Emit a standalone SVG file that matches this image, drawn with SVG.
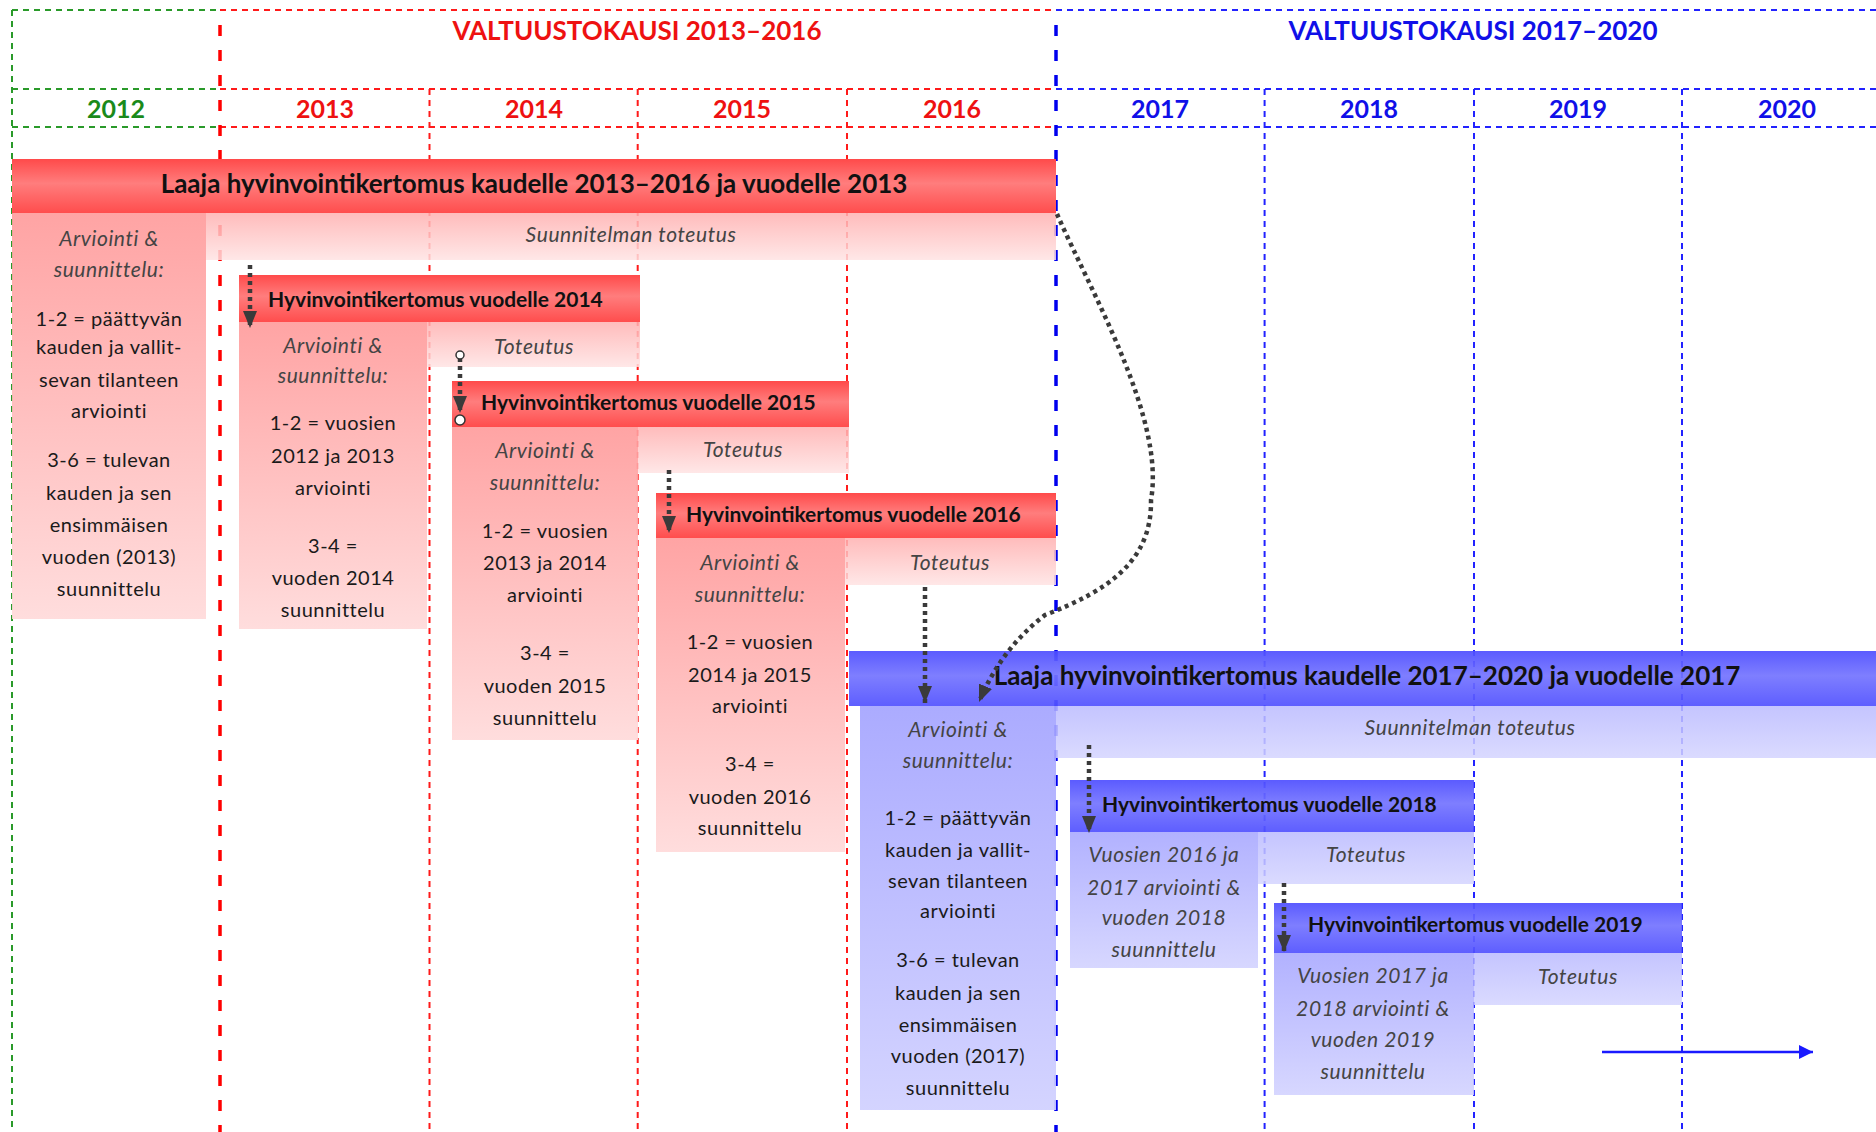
<svg xmlns="http://www.w3.org/2000/svg" width="1876" height="1132" viewBox="0 0 1876 1132">
<style>
text{font-family:Lato,"Liberation Sans",sans-serif}
.per{font-size:26px;font-weight:bold;text-anchor:middle}
.yr{font-size:25px;font-weight:bold;text-anchor:middle}
.big{font-size:26px;font-weight:bold;text-anchor:middle;fill:#111}
.hdr{font-size:21px;font-weight:bold;fill:#111}
.it{font-size:21px;font-style:italic;fill:#444;text-anchor:middle;letter-spacing:0.6px}
.bd{font-size:20px;fill:#1a1a1a;text-anchor:middle;letter-spacing:0.5px}
.r{fill:#ee1111}.g{fill:#1a8a1a}.b{fill:#1010e8}
.lg{stroke:#2a9a2a;stroke-width:2;stroke-dasharray:6 5;fill:none}
.lr{stroke:#ff1a1a;stroke-width:2;stroke-dasharray:6 5;fill:none}
.lb{stroke:#2222ff;stroke-width:2;stroke-dasharray:6 5;fill:none}
.lrt{stroke:#ff0000;stroke-width:3.5;stroke-dasharray:11 14;fill:none}
.lbt{stroke:#0000ee;stroke-width:3.5;stroke-dasharray:11 14;fill:none}
.dot{stroke:#3a3a3a;stroke-width:4.5;stroke-dasharray:4 4;fill:none}
</style>
<defs>
<linearGradient id="rh" x1="0" y1="0" x2="0" y2="1">
<stop offset="0" stop-color="#ff4a4a"/><stop offset="0.45" stop-color="#ff7d7d"/><stop offset="1" stop-color="#ff4d4d"/>
</linearGradient>
<linearGradient id="rb" x1="0" y1="0" x2="0" y2="1">
<stop offset="0" stop-color="#ff9c9c"/><stop offset="1" stop-color="#ffdada"/>
</linearGradient>
<linearGradient id="rt" x1="0" y1="0" x2="0" y2="1">
<stop offset="0" stop-color="#ffb0b0"/><stop offset="1" stop-color="#ffe3e3"/>
</linearGradient>
<linearGradient id="bh" x1="0" y1="0" x2="0" y2="1">
<stop offset="0" stop-color="#4d4dff"/><stop offset="0.45" stop-color="#7373ff"/><stop offset="1" stop-color="#5050ff"/>
</linearGradient>
<linearGradient id="bb" x1="0" y1="0" x2="0" y2="1">
<stop offset="0" stop-color="#a4a4ff"/><stop offset="1" stop-color="#d0d0ff"/>
</linearGradient>
<linearGradient id="bt" x1="0" y1="0" x2="0" y2="1">
<stop offset="0" stop-color="#babaff"/><stop offset="1" stop-color="#d4d4ff"/>
</linearGradient>
<marker id="ac" viewBox="0 0 17 14" refX="17" refY="7" markerWidth="17" markerHeight="14" markerUnits="userSpaceOnUse" orient="auto">
<path d="M0,0 L17,7 L0,14 Z" fill="#3a3a3a"/>
</marker>
<marker id="ab" viewBox="0 0 14 14" refX="14" refY="7" markerWidth="14" markerHeight="14" markerUnits="userSpaceOnUse" orient="auto">
<path d="M0,0 L14,7 L0,14 Z" fill="#1a1aff"/>
</marker>
</defs>
<rect width="1876" height="1132" fill="#ffffff"/>

<g id="grid">
<path class="lg" d="M12,10H220M12,89H220M12,127H220M12,10V1132"/>
<path class="lr" d="M220,10H1056M220,89H1056M220,127H1056M429.5,89V1132M637.7,89V1132M847,89V1132"/>
<path class="lb" d="M1056,10H1876M1056,89H1876M1056,127H1876M1264.6,89V1132M1474,89V1132M1682,89V1132"/>
<path class="lrt" d="M220,25V1132"/>
<path class="lbt" d="M1056,25V1132"/>
</g>

<g id="header">
<text class="per r" x="637" y="40">VALTUUSTOKAUSI 2013–2016</text>
<text class="per b" x="1473" y="40">VALTUUSTOKAUSI 2017–2020</text>
<text class="yr g" x="116" y="118">2012</text>
<text class="yr r" x="325" y="118">2013</text>
<text class="yr r" x="534" y="118">2014</text>
<text class="yr r" x="742" y="118">2015</text>
<text class="yr r" x="952" y="118">2016</text>
<text class="yr b" x="1160" y="118">2017</text>
<text class="yr b" x="1369" y="118">2018</text>
<text class="yr b" x="1578" y="118">2019</text>
<text class="yr b" x="1787" y="118">2020</text>
</g>

<g id="kertomus-2013-2016">
<rect x="12" y="159" width="1044" height="54" fill="url(#rh)"/>
<rect x="12" y="213" width="194" height="406" fill="url(#rb)" opacity="0.92"/>
<rect x="206" y="213" width="850" height="47" fill="url(#rt)" opacity="0.85"/>
<text class="big" x="534" y="193">Laaja hyvinvointikertomus kaudelle 2013–2016 ja vuodelle 2013</text>
<text class="it" x="631" y="242">Suunnitelman toteutus</text>
<text class="it" x="109" y="246">Arviointi &amp;</text>
<text class="it" x="109" y="277">suunnittelu:</text>
<text class="bd" x="109" y="326">1-2 = päättyvän</text>
<text class="bd" x="109" y="354">kauden ja vallit-</text>
<text class="bd" x="109" y="387">sevan tilanteen</text>
<text class="bd" x="109" y="418">arviointi</text>
<text class="bd" x="109" y="467">3-6 = tulevan</text>
<text class="bd" x="109" y="500">kauden ja sen</text>
<text class="bd" x="109" y="532">ensimmäisen</text>
<text class="bd" x="109" y="564">vuoden (2013)</text>
<text class="bd" x="109" y="596">suunnittelu</text>
</g>

<g id="kertomus-2014">
<rect x="239" y="275" width="401" height="47" fill="url(#rh)"/>
<rect x="239" y="322" width="188" height="307" fill="url(#rb)" opacity="0.92"/>
<rect x="427" y="322" width="213" height="45" fill="url(#rt)" opacity="0.85"/>
<text class="hdr" x="268" y="307">Hyvinvointikertomus vuodelle 2014</text>
<text class="it" x="534" y="354">Toteutus</text>
<text class="it" x="333" y="353">Arviointi &amp;</text>
<text class="it" x="333" y="383">suunnittelu:</text>
<text class="bd" x="333" y="430">1-2 = vuosien</text>
<text class="bd" x="333" y="463">2012 ja 2013</text>
<text class="bd" x="333" y="495">arviointi</text>
<text class="bd" x="333" y="553">3-4 =</text>
<text class="bd" x="333" y="585">vuoden 2014</text>
<text class="bd" x="333" y="617">suunnittelu</text>
</g>

<g id="kertomus-2015">
<rect x="452" y="381" width="397" height="46" fill="url(#rh)"/>
<rect x="452" y="427" width="186" height="313" fill="url(#rb)" opacity="0.92"/>
<rect x="638" y="427" width="211" height="46" fill="url(#rt)" opacity="0.85"/>
<text class="hdr" x="481" y="410">Hyvinvointikertomus vuodelle 2015</text>
<text class="it" x="743" y="457">Toteutus</text>
<text class="it" x="545" y="458">Arviointi &amp;</text>
<text class="it" x="545" y="490">suunnittelu:</text>
<text class="bd" x="545" y="538">1-2 = vuosien</text>
<text class="bd" x="545" y="570">2013 ja 2014</text>
<text class="bd" x="545" y="602">arviointi</text>
<text class="bd" x="545" y="660">3-4 =</text>
<text class="bd" x="545" y="693">vuoden 2015</text>
<text class="bd" x="545" y="725">suunnittelu</text>
</g>

<g id="kertomus-2016">
<rect x="656" y="493" width="400" height="45" fill="url(#rh)"/>
<rect x="656" y="538" width="189" height="314" fill="url(#rb)" opacity="0.92"/>
<rect x="845" y="538" width="211" height="47" fill="url(#rt)" opacity="0.85"/>
<text class="hdr" x="686" y="522">Hyvinvointikertomus vuodelle 2016</text>
<text class="it" x="950" y="570">Toteutus</text>
<text class="it" x="750" y="570">Arviointi &amp;</text>
<text class="it" x="750" y="602">suunnittelu:</text>
<text class="bd" x="750" y="649">1-2 = vuosien</text>
<text class="bd" x="750" y="682">2014 ja 2015</text>
<text class="bd" x="750" y="713">arviointi</text>
<text class="bd" x="750" y="771">3-4 =</text>
<text class="bd" x="750" y="804">vuoden 2016</text>
<text class="bd" x="750" y="835">suunnittelu</text>
</g>

<g id="kertomus-2017-2020">
<rect x="849" y="651" width="1027" height="55" fill="url(#bh)" opacity="0.92"/>
<rect x="860" y="706" width="196" height="404" fill="url(#bb)" opacity="0.92"/>
<rect x="1056" y="706" width="820" height="52" fill="url(#bt)" opacity="0.85"/>
<text class="big" x="1367" y="685">Laaja hyvinvointikertomus kaudelle 2017–2020 ja vuodelle 2017</text>
<text class="it" x="1470" y="735">Suunnitelman toteutus</text>
<text class="it" x="958" y="737">Arviointi &amp;</text>
<text class="it" x="958" y="768">suunnittelu:</text>
<text class="bd" x="958" y="825">1-2 = päättyvän</text>
<text class="bd" x="958" y="857">kauden ja vallit-</text>
<text class="bd" x="958" y="888">sevan tilanteen</text>
<text class="bd" x="958" y="918">arviointi</text>
<text class="bd" x="958" y="967">3-6 = tulevan</text>
<text class="bd" x="958" y="1000">kauden ja sen</text>
<text class="bd" x="958" y="1032">ensimmäisen</text>
<text class="bd" x="958" y="1063">vuoden (2017)</text>
<text class="bd" x="958" y="1095">suunnittelu</text>
</g>

<g id="kertomus-2018">
<rect x="1070" y="780" width="404" height="52" fill="url(#bh)" opacity="0.92"/>
<rect x="1070" y="832" width="188" height="136" fill="url(#bb)" opacity="0.85"/>
<rect x="1258" y="832" width="216" height="52" fill="url(#bt)" opacity="0.85"/>
<text class="hdr" x="1102" y="812">Hyvinvointikertomus vuodelle 2018</text>
<text class="it" x="1366" y="862">Toteutus</text>
<text class="it" x="1164" y="862">Vuosien 2016 ja</text>
<text class="it" x="1164" y="895">2017 arviointi &amp;</text>
<text class="it" x="1164" y="925">vuoden 2018</text>
<text class="it" x="1164" y="957">suunnittelu</text>
</g>

<g id="kertomus-2019">
<rect x="1274" y="903" width="408" height="50" fill="url(#bh)" opacity="0.92"/>
<rect x="1274" y="953" width="200" height="142" fill="url(#bb)" opacity="0.85"/>
<rect x="1474" y="953" width="208" height="52" fill="url(#bt)" opacity="0.85"/>
<text class="hdr" x="1308" y="932">Hyvinvointikertomus vuodelle 2019</text>
<text class="it" x="1578" y="984">Toteutus</text>
<text class="it" x="1373" y="983">Vuosien 2017 ja</text>
<text class="it" x="1373" y="1016">2018 arviointi &amp;</text>
<text class="it" x="1373" y="1047">vuoden 2019</text>
<text class="it" x="1373" y="1079">suunnittelu</text>
</g>

<g id="connectors">
<path class="dot" d="M250,265V328" marker-end="url(#ac)"/>
<path class="dot" d="M460,358V413" marker-end="url(#ac)"/>
<circle cx="460" cy="355" r="4" fill="#fff" stroke="#333" stroke-width="1.5"/>
<circle cx="460" cy="420" r="5" fill="#fff" stroke="#333" stroke-width="1.5"/>
<path class="dot" d="M669,470V533" marker-end="url(#ac)"/>
<path class="dot" d="M925,587V703" marker-end="url(#ac)"/>
<path class="dot" d="M1057,214 C1095,300 1165,420 1151,500 C1152,560 1110,590 1045,615 C1015,638 993,668 979,702" marker-end="url(#ac)"/>
<path class="dot" d="M1089,745V833" marker-end="url(#ac)"/>
<path class="dot" d="M1284,883V952" marker-end="url(#ac)"/>
<path d="M1602,1052H1813" stroke="#1a1aff" stroke-width="2.5" fill="none" marker-end="url(#ab)"/>
</g>
</svg>
